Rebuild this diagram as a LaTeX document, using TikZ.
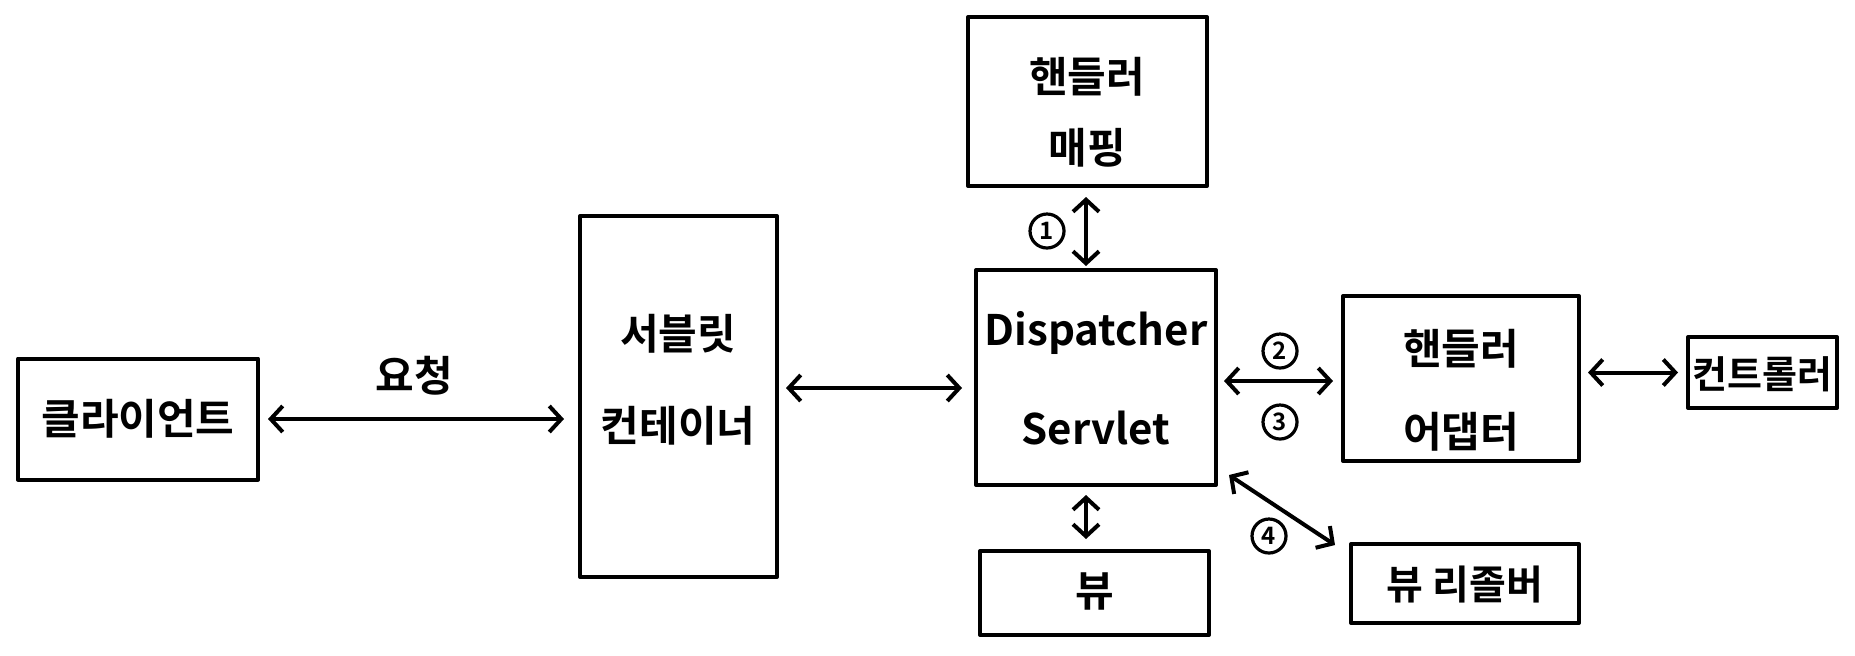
\documentclass[tikz,border=0pt]{standalone}
\usepackage{fontspec}
\setmainfont{Noto Sans CJK KR}[BoldFont={Noto Sans CJK KR Bold}]
\usetikzlibrary{arrows.meta,calc}
\begin{document}
\begin{tikzpicture}[x=0.5pt,y=-0.5pt,
  box/.style={draw, line width=2pt, line join=round, inner sep=0pt},
  conn/.style={line width=2pt, line cap=round, line join=round,
    {Straight Barb[length=6pt,width=13pt]}-{Straight Barb[length=6pt,width=13pt]}},
  txt/.style={font=\fontsize{21}{21}\selectfont\bfseries, align=center, inner sep=0pt},
  num/.style={draw, circle, line width=1.6pt, minimum size=17pt, inner sep=0pt,
    font=\fontsize{12}{12}\selectfont\bfseries}]
\fill[white] (0,0) rectangle (1855,655);
\useasboundingbox (0,0) rectangle (1855,655);
% boxes
\node[box, minimum width=120pt, minimum height=60.5pt] (client) at (138,419) {};
\node[box, minimum width=98.5pt, minimum height=180.5pt] (cont) at (678.5,396.5) {};
\node[box, minimum width=120pt, minimum height=107.5pt] (disp) at (1096,377.5) {};
\node[box, minimum width=119.5pt, minimum height=84.5pt] (map) at (1087.5,101.5) {};
\node[box, minimum width=118pt, minimum height=82.5pt] (adap) at (1461,378.5) {};
\node[box, minimum width=74.5pt, minimum height=35.5pt] (ctrl) at (1762.5,372.5) {};
\node[box, minimum width=114.5pt, minimum height=42pt] (view) at (1094.5,593) {};
\node[box, minimum width=114pt, minimum height=39.5pt] (res) at (1465,583.5) {};
% texts
\node[txt] (clientT) at (138,419) {클라이언트};
\node[txt, font=\fontsize{21}{46}\selectfont\bfseries] (contT) at (678,380) {서블릿\\컨테이너};
\node[txt, font=\fontsize{21}{49.5}\selectfont\bfseries] (dispT) at (1096,378) {Dispatcher\\Servlet};
\node[txt, font=\fontsize{21}{35.5}\selectfont\bfseries] (mapT) at (1087,112) {핸들러\\매핑};
\node[txt, font=\fontsize{21}{41.5}\selectfont\bfseries] (adapT) at (1461,390) {핸들러\\어댑터};
\node[txt, font=\fontsize{19}{19}\selectfont\bfseries] (ctrlT) at (1762.5,374) {컨트롤러};
\node[txt] (viewT) at (1094.5,591) {뷰};
\node[txt, font=\fontsize{20}{20}\selectfont\bfseries] (resT) at (1465,585) {뷰 리졸버};
% connectors
\draw[conn, shorten <=4pt, shorten >=7pt] (client.east) -- (client.east -| cont.west);
\coordinate (c1) at ($(cont.east)+(0,-8.5)$);
\draw[conn, shorten <=3.5pt, shorten >=6pt] (c1) -- (c1 -| disp.west);
\coordinate (c2) at ($(map.south)+(-1.5,0)$);
\draw[conn, shorten <=4.5pt, shorten >=1pt] (c2) -- (c2 |- disp.north);
\coordinate (c3) at ($(disp.east)+(0,3.5)$);
\draw[conn, shorten <=3pt, shorten >=4pt] (c3) -- (c3 -| adap.west);
\draw[conn, shorten <=3.5pt, shorten >=4pt] (ctrl.west -| adap.east) -- (ctrl.west);
\coordinate (c4) at ($(disp.south)+(-10,0)$);
\draw[conn, shorten <=4pt, shorten >=5pt] (c4) -- (c4 |- view.north);
\coordinate (c5) at ($(disp.south east)+(11,-12)$);
\coordinate (c6) at ($(res.north west)+(-14,3)$);
\draw[conn] (c5) -- (c6);
% labels
\node[txt] (req) at (414,376) {요청};
\node[num] (n1) at (1047,231) {1};
\node[num] (n2) at (1280,351) {2};
\node[num] (n3) at (1280,422) {3};
\node[num] (n4) at (1269,536) {4};
\end{tikzpicture}
\end{document}
